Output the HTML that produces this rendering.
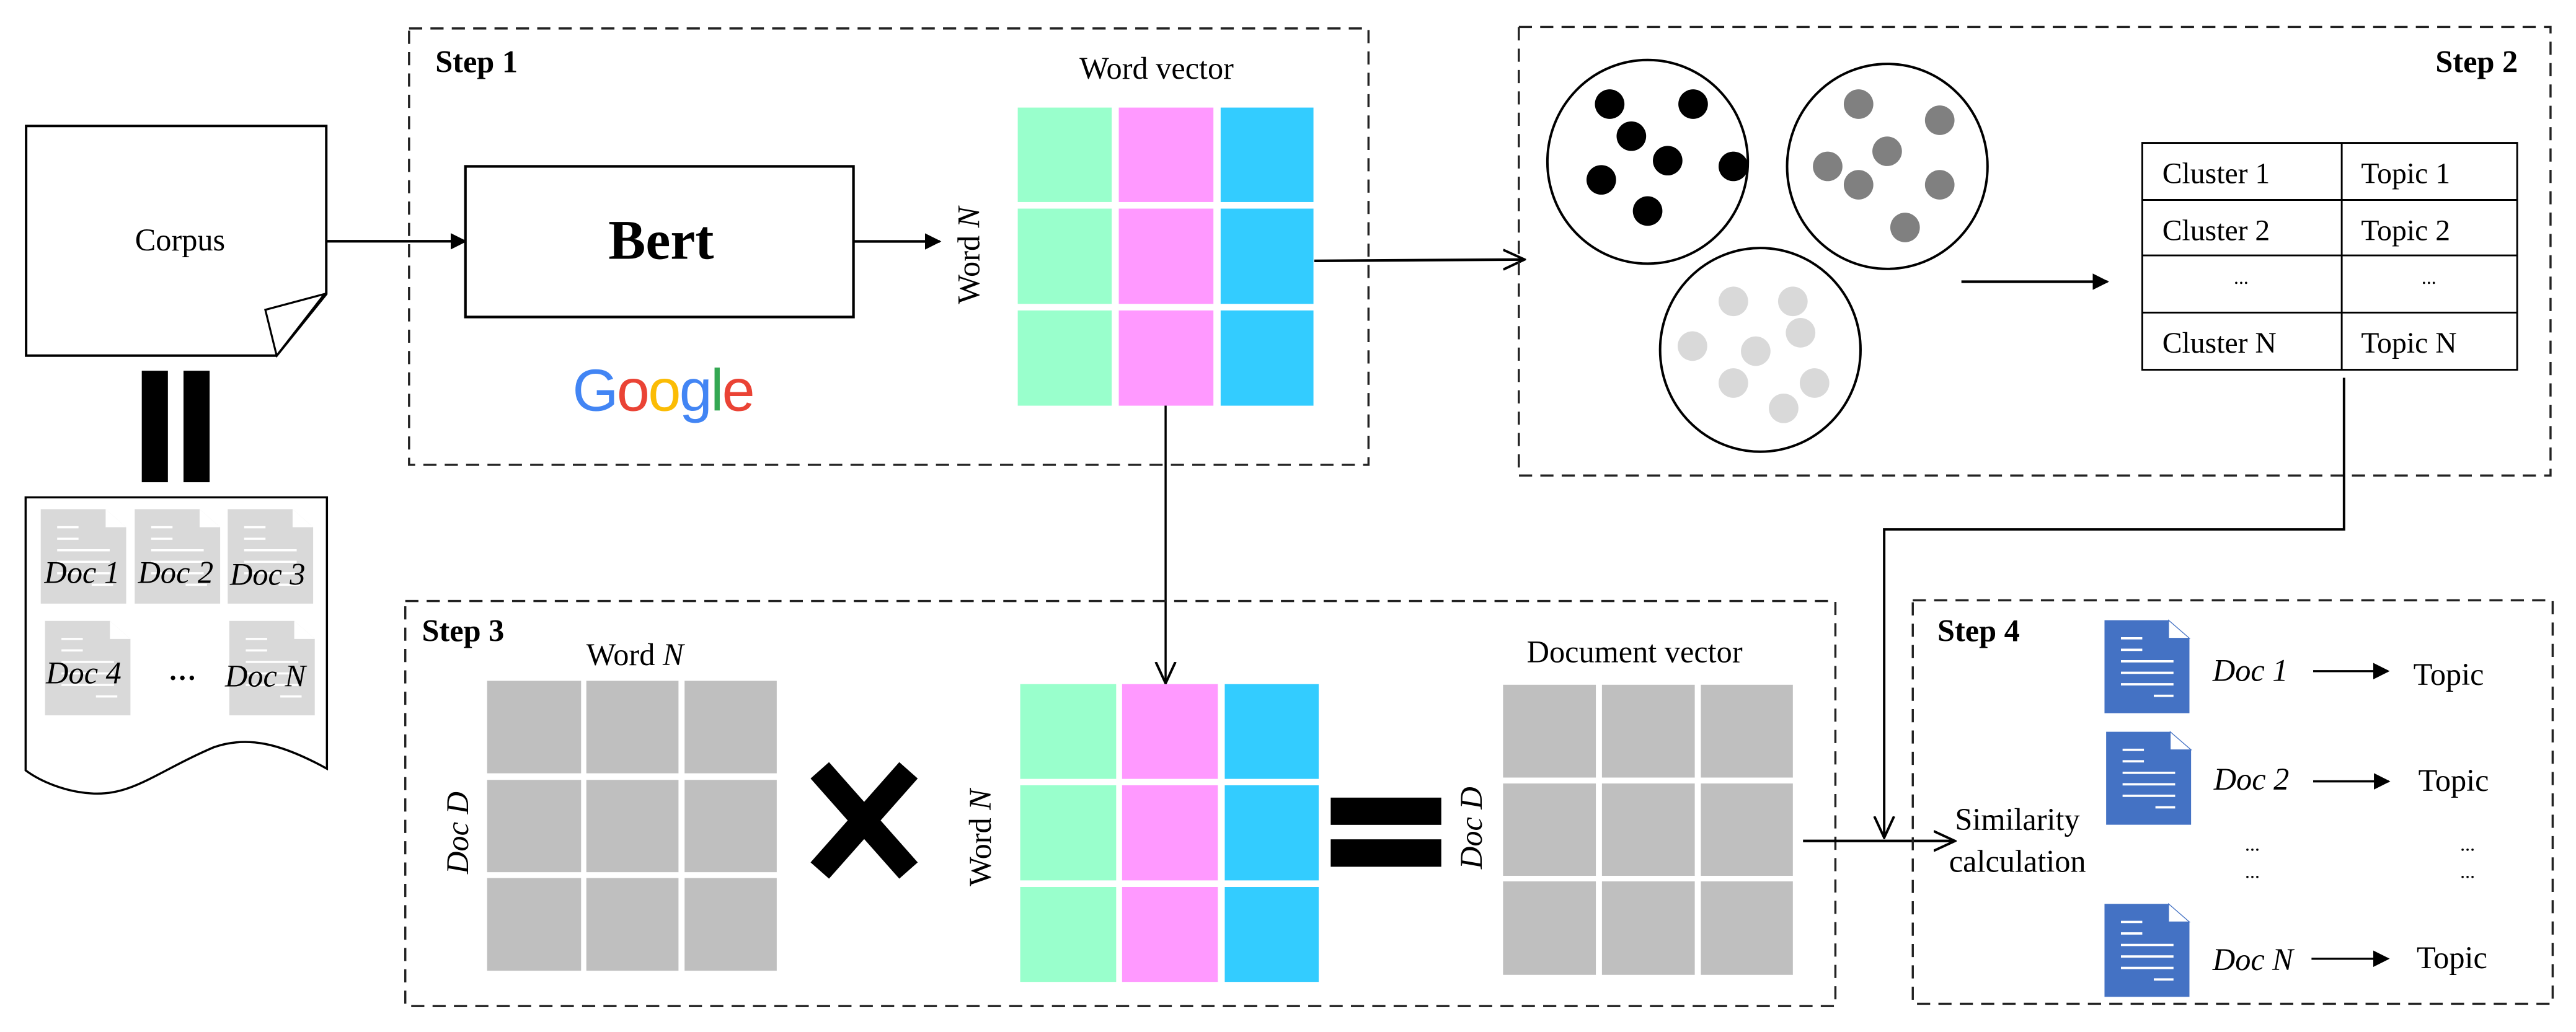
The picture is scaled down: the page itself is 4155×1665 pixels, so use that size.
<!DOCTYPE html>
<html><head><meta charset="utf-8"><style>
html,body{margin:0;padding:0;background:#fff;}
svg{display:block;}
text{font-family:"Liberation Serif",serif;fill:#000;}
.it{font-style:italic;}
.b{font-weight:bold;}
.d{fill:none;stroke:#222;stroke-width:1.3;stroke-dasharray:8,5;}
</style></head><body>
<svg width="4155" height="1665" viewBox="0 0 1568 628.3" preserveAspectRatio="none" xmlns="http://www.w3.org/2000/svg">
<defs>
<marker id="fa" markerWidth="10" markerHeight="10" refX="9" refY="5" orient="auto" markerUnits="userSpaceOnUse"><path d="M0,0 L10,5 L0,10 z" fill="#000"/></marker>
<marker id="oa" markerWidth="14" markerHeight="14" refX="13" refY="7" orient="auto" markerUnits="userSpaceOnUse"><path d="M0,1 L13,7 L0,13" fill="none" stroke="#000" stroke-width="1.5"/></marker>
<g id="gdoc">
<path d="M0,0 H39.5 L52,11 V57.5 H0 Z" fill="#d9d9d9"/>
<path d="M39.5,0 L52,11 H39.5 Z" fill="#fff"/>
<g stroke="#fff" stroke-width="1.3"><line x1="10" y1="11" x2="23" y2="11"/><line x1="10" y1="18" x2="23" y2="18"/><line x1="10" y1="25" x2="42" y2="25"/><line x1="10" y1="32" x2="42" y2="32"/><line x1="10" y1="39" x2="42" y2="39"/><line x1="31" y1="46" x2="44" y2="46"/></g>
</g>
<g id="bdoc">
<path d="M0,0 H39 L51.7,11 V56.6 H0 Z" fill="#4472c4"/>
<path d="M39,0 L51.7,11 H39 Z" fill="#fff" stroke="#4472c4" stroke-width="0.5"/>
<g stroke="#fff" stroke-width="1.4"><line x1="10" y1="11" x2="23" y2="11"/><line x1="10" y1="18" x2="23" y2="18"/><line x1="10" y1="25" x2="42" y2="25"/><line x1="10" y1="32" x2="42" y2="32"/><line x1="10" y1="39" x2="42" y2="39"/><line x1="30" y1="46" x2="42" y2="46"/></g>
</g>
</defs>

<!-- Corpus -->
<path d="M15.9,76.7 H198.6 V179 L168.4,216.5 H15.9 Z" fill="#fff" stroke="#000" stroke-width="1.5"/>
<path d="M161.5,188.6 L197.5,179 L168.4,216.5 Z" fill="#fff" stroke="#000" stroke-width="1.2"/>
<text x="109.6" y="152.5" font-size="19" text-anchor="middle">Corpus</text>
<rect x="86.3" y="225.7" width="15.9" height="67.9" fill="#000"/>
<rect x="111.7" y="225.7" width="15.9" height="67.9" fill="#000"/>

<!-- docs box -->
<path d="M15.6,302.8 H199 V468 C170,452 150,448 130,455 C95,470 80,485 55,483 C40,482 25,476 15.6,469 Z" fill="#fff" stroke="#000" stroke-width="1.3"/>
<use href="#gdoc" x="24.8" y="310"/>
<use href="#gdoc" x="82" y="310"/>
<use href="#gdoc" x="138.6" y="310"/>
<use href="#gdoc" x="27.4" y="378"/>
<use href="#gdoc" x="139.6" y="378"/>
<text class="it" x="27" y="355" font-size="19">Doc 1</text>
<text class="it" x="84" y="355" font-size="19">Doc 2</text>
<text class="it" x="140" y="356" font-size="19">Doc 3</text>
<text class="it" x="28" y="416" font-size="19">Doc 4</text>
<text x="111" y="414" font-size="17" text-anchor="middle" class="b">…</text>
<text class="it" x="137" y="418" font-size="19">Doc N</text>

<!-- Step 1 -->
<rect class="d" x="249" y="17.3" width="584" height="265.7"/>
<text class="b" x="265" y="44" font-size="19">Step 1</text>
<line x1="198.6" y1="146.9" x2="283.3" y2="146.9" stroke="#000" stroke-width="1.6" marker-end="url(#fa)"/>
<rect x="283.3" y="101.3" width="236.2" height="91.7" fill="#fff" stroke="#000" stroke-width="1.6"/>
<text class="b" x="402.4" y="157.5" font-size="34" text-anchor="middle">Bert</text>
<line x1="519.5" y1="147" x2="572" y2="147" stroke="#000" stroke-width="1.6" marker-end="url(#fa)"/>
<text x="403.5" y="250" font-size="36" text-anchor="middle" style="font-family:'Liberation Sans',sans-serif;letter-spacing:-1px"><tspan fill="#4285f4">G</tspan><tspan fill="#ea4335">o</tspan><tspan fill="#fbbc05">o</tspan><tspan fill="#4285f4">g</tspan><tspan fill="#34a853">l</tspan><tspan fill="#ea4335">e</tspan></text>
<text x="704" y="48" font-size="19" text-anchor="middle">Word vector</text>
<text x="0" y="0" font-size="19" text-anchor="middle" transform="translate(596,155.5) rotate(-90)">Word <tspan class="it">N</tspan></text>
<g>
<rect x="619.5" y="65.5" width="57.2" height="57.5" fill="#99ffcc"/><rect x="681" y="65.5" width="57.6" height="57.5" fill="#ff99ff"/><rect x="743" y="65.5" width="56.5" height="57.5" fill="#33ccff"/>
<rect x="619.5" y="127" width="57.2" height="58" fill="#99ffcc"/><rect x="681" y="127" width="57.6" height="58" fill="#ff99ff"/><rect x="743" y="127" width="56.5" height="58" fill="#33ccff"/>
<rect x="619.5" y="189" width="57.2" height="58" fill="#99ffcc"/><rect x="681" y="189" width="57.6" height="58" fill="#ff99ff"/><rect x="743" y="189" width="56.5" height="58" fill="#33ccff"/>
</g>
<line x1="800" y1="158.8" x2="928" y2="158" stroke="#000" stroke-width="1.6" marker-end="url(#oa)"/>
<line x1="709.5" y1="247" x2="709.5" y2="416" stroke="#000" stroke-width="1.3" marker-end="url(#oa)"/>

<!-- Step 2 -->
<rect class="d" x="924.5" y="16.4" width="628" height="273.1"/>
<text class="b" x="1532.6" y="44" font-size="19" text-anchor="end">Step 2</text>
<g fill="#fff" stroke="#000" stroke-width="1.5">
<ellipse cx="1002.9" cy="98.5" rx="61" ry="62"/>
<ellipse cx="1148.8" cy="101.3" rx="61" ry="62.4"/>
<ellipse cx="1071.5" cy="213" rx="61" ry="62"/>
</g>
<g fill="#000"><circle cx="979.8" cy="63.4" r="9"/><circle cx="1030.6" cy="63.4" r="9"/><circle cx="993" cy="82.9" r="9"/><circle cx="1015.1" cy="97.8" r="9"/><circle cx="974.7" cy="109.5" r="9"/><circle cx="1055.1" cy="101.3" r="9"/><circle cx="1002.9" cy="128.5" r="9"/></g>
<g fill="#808080"><circle cx="1131.3" cy="63.4" r="9"/><circle cx="1180.7" cy="73.2" r="9"/><circle cx="1148.7" cy="92.1" r="9"/><circle cx="1112.5" cy="101.3" r="9"/><circle cx="1131.3" cy="112.5" r="9"/><circle cx="1180.7" cy="112.5" r="9"/><circle cx="1159.6" cy="138.5" r="9"/></g>
<g fill="#d9d9d9"><circle cx="1055.1" cy="183.5" r="9"/><circle cx="1091.3" cy="183.5" r="9"/><circle cx="1096" cy="202.6" r="9"/><circle cx="1030.2" cy="210.7" r="9"/><circle cx="1068.7" cy="213.8" r="9"/><circle cx="1055.1" cy="233.2" r="9"/><circle cx="1104.5" cy="233.2" r="9"/><circle cx="1085.7" cy="248.6" r="9"/></g>
<line x1="1193.9" y1="171.5" x2="1282.8" y2="171.5" stroke="#000" stroke-width="1.6" marker-end="url(#fa)"/>
<g stroke="#000" stroke-width="1.1" fill="none">
<rect x="1304" y="87" width="228.2" height="138.1"/>
<line x1="1425.4" y1="87" x2="1425.4" y2="225.1"/>
<line x1="1304" y1="121.7" x2="1532.2" y2="121.7"/>
<line x1="1304" y1="155.5" x2="1532.2" y2="155.5"/>
<line x1="1304" y1="190.3" x2="1532.2" y2="190.3"/>
</g>
<g font-size="18">
<text x="1316.2" y="111.5">Cluster 1</text><text x="1437.2" y="111.5">Topic 1</text>
<text x="1316.2" y="146.3">Cluster 2</text><text x="1437.2" y="146.3">Topic 2</text>
<text x="1364.2" y="172.9" text-anchor="middle" font-size="12">...</text><text x="1478.5" y="172.9" text-anchor="middle" font-size="12">...</text>
<text x="1316.2" y="214.8">Cluster N</text><text x="1437.2" y="214.8">Topic N</text>
</g>
<polyline points="1426.8,230 1426.8,322.3 1146.9,322.3 1146.9,510" fill="none" stroke="#000" stroke-width="1.5" marker-end="url(#oa)"/>

<!-- Step 3 -->
<rect class="d" x="246.7" y="365.9" width="870.5" height="246.6"/>
<text class="b" x="256.8" y="390.4" font-size="19">Step 3</text>
<text x="386.5" y="405" font-size="19" text-anchor="middle">Word <tspan class="it">N</tspan></text>
<text class="it" x="0" y="0" font-size="19" text-anchor="middle" transform="translate(285,507) rotate(-90)">Doc D</text>
<g fill="#bfbfbf">
<rect x="296.5" y="414.5" width="57.2" height="56.3"/><rect x="356.9" y="414.5" width="56.1" height="56.3"/><rect x="416.7" y="414.5" width="56.1" height="56.3"/>
<rect x="296.5" y="474.8" width="57.2" height="56.2"/><rect x="356.9" y="474.8" width="56.1" height="56.2"/><rect x="416.7" y="474.8" width="56.1" height="56.2"/>
<rect x="296.5" y="534.6" width="57.2" height="56.4"/><rect x="356.9" y="534.6" width="56.1" height="56.4"/><rect x="416.7" y="534.6" width="56.1" height="56.4"/>
</g>
<g stroke="#000" stroke-width="15"><line x1="499" y1="469" x2="553" y2="530"/><line x1="553" y1="469" x2="499" y2="530"/></g>
<text x="0" y="0" font-size="19" text-anchor="middle" transform="translate(603,510) rotate(-90)">Word <tspan class="it">N</tspan></text>
<g>
<rect x="621" y="416.5" width="58.4" height="57.7" fill="#99ffcc"/><rect x="683" y="416.5" width="58.3" height="57.7" fill="#ff99ff"/><rect x="745.5" y="416.5" width="57.2" height="57.7" fill="#33ccff"/>
<rect x="621" y="478.1" width="58.4" height="57.9" fill="#99ffcc"/><rect x="683" y="478.1" width="58.3" height="57.9" fill="#ff99ff"/><rect x="745.5" y="478.1" width="57.2" height="57.9" fill="#33ccff"/>
<rect x="621" y="540" width="58.4" height="57.8" fill="#99ffcc"/><rect x="683" y="540" width="58.3" height="57.8" fill="#ff99ff"/><rect x="745.5" y="540" width="57.2" height="57.8" fill="#33ccff"/>
</g>
<rect x="810" y="485.6" width="67.3" height="16.6" fill="#000"/>
<rect x="810" y="511" width="67.3" height="16.7" fill="#000"/>
<text class="it" x="0" y="0" font-size="19" text-anchor="middle" transform="translate(902,504) rotate(-90)">Doc D</text>
<text x="995" y="403.2" font-size="19" text-anchor="middle">Document vector</text>
<g fill="#bfbfbf">
<rect x="914.9" y="416.9" width="56.5" height="56.5"/><rect x="975.1" y="416.9" width="56.5" height="56.5"/><rect x="1035.3" y="416.9" width="56" height="56.5"/>
<rect x="914.9" y="477" width="56.5" height="56.2"/><rect x="975.1" y="477" width="56.5" height="56.2"/><rect x="1035.3" y="477" width="56" height="56.2"/>
<rect x="914.9" y="536.6" width="56.5" height="56.9"/><rect x="975.1" y="536.6" width="56.5" height="56.9"/><rect x="1035.3" y="536.6" width="56" height="56.9"/>
</g>
<line x1="1097.5" y1="512" x2="1190" y2="512" stroke="#000" stroke-width="1.6" marker-end="url(#oa)"/>

<!-- Step 4 -->
<rect class="d" x="1164.3" y="365.5" width="389.5" height="245.6"/>
<text class="b" x="1179.3" y="390.4" font-size="19">Step 4</text>
<use href="#bdoc" x="1281" y="377.6"/>
<use href="#bdoc" x="1282" y="445.5"/>
<use href="#bdoc" x="1281" y="550.3"/>
<text x="1190" y="505.2" font-size="19">Similarity</text>
<text x="1186.4" y="530.7" font-size="19">calculation</text>
<g font-size="19">
<text class="it" x="1346.8" y="414.5">Doc 1</text>
<text class="it" x="1347.5" y="480.7">Doc 2</text>
<text class="it" x="1346.8" y="590.5">Doc N</text>
<text x="1469" y="417">Topic</text>
<text x="1472" y="481.6">Topic</text>
<text x="1471" y="589.5">Topic</text>
</g>
<g stroke="#000" stroke-width="1.3">
<line x1="1408" y1="408.6" x2="1453.6" y2="408.6" marker-end="url(#fa)"/>
<line x1="1408" y1="475.7" x2="1454" y2="475.7" marker-end="url(#fa)"/>
<line x1="1407" y1="583.7" x2="1453.6" y2="583.7" marker-end="url(#fa)"/>
</g>
<g font-size="12" text-anchor="middle">
<text x="1371" y="518">...</text><text x="1371" y="534.6">...</text>
<text x="1502" y="518">...</text><text x="1502" y="534.6">...</text>
</g>
</svg>
</body></html>
